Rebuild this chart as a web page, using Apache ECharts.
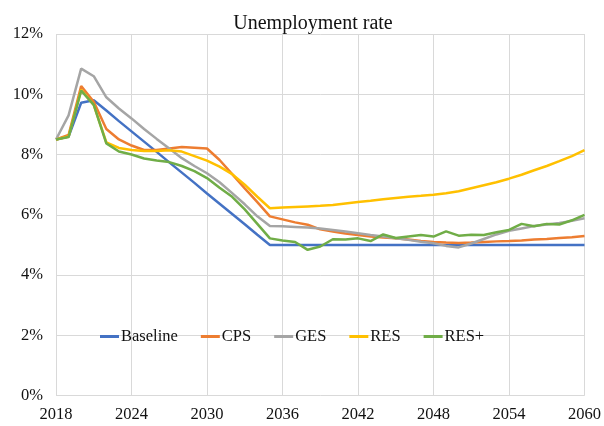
<!DOCTYPE html>
<html><head><meta charset="utf-8">
<script src="https://cdn.jsdelivr.net/npm/echarts@6/dist/echarts.min.js"></script>
<style>html,body{margin:0;padding:0;background:#fff}#c{width:604px;height:426px}</style>
</head><body><div id="c"></div>
<script>
const years = [2018,2019,2020,2021,2022,2023,2024,2025,2026,2027,2028,2029,2030,2031,2032,2033,2034,2035,2036,2037,2038,2039,2040,2041,2042,2043,2044,2045,2046,2047,2048,2049,2050,2051,2052,2053,2054,2055,2056,2057,2058,2059,2060];
const baseline = [8.5,8.6,9.72,9.8,9.46,9.11,8.77,8.43,8.09,7.74,7.4,7.06,6.71,6.37,6.03,5.69,5.34,5.0,5.0,5.0,5.0,5.0,5.0,5.0,5.0,5.0,5.0,5.0,5.0,5.0,5.0,5.0,5.0,5.0,5.0,5.0,5.0,5.0,5.0,5.0,5.0,5.0,5.0];
const cps = [8.5,8.65,10.27,9.75,8.85,8.5,8.3,8.15,8.15,8.2,8.25,8.23,8.2,7.82,7.35,6.88,6.42,5.95,5.85,5.75,5.67,5.52,5.45,5.38,5.33,5.28,5.25,5.22,5.18,5.13,5.1,5.08,5.07,5.08,5.1,5.12,5.13,5.15,5.18,5.2,5.23,5.26,5.3];
const ges = [8.5,9.3,10.85,10.6,9.9,9.53,9.2,8.85,8.52,8.2,7.88,7.62,7.38,7.08,6.72,6.35,5.95,5.63,5.62,5.6,5.58,5.55,5.5,5.45,5.39,5.33,5.28,5.22,5.17,5.11,5.06,4.97,4.92,5.05,5.2,5.35,5.47,5.55,5.63,5.68,5.73,5.8,5.89];
const res = [8.5,8.6,10.15,9.65,8.4,8.22,8.15,8.12,8.12,8.14,8.1,7.95,7.8,7.6,7.35,7.0,6.6,6.22,6.24,6.26,6.28,6.3,6.33,6.38,6.43,6.47,6.52,6.56,6.6,6.63,6.67,6.72,6.78,6.88,6.98,7.08,7.2,7.33,7.48,7.62,7.78,7.95,8.15];
const resPlus = [8.5,8.58,10.12,9.65,8.37,8.1,8.0,7.87,7.8,7.75,7.62,7.45,7.22,6.9,6.6,6.18,5.7,5.22,5.15,5.1,4.84,4.95,5.19,5.18,5.22,5.13,5.35,5.23,5.28,5.33,5.28,5.45,5.31,5.34,5.33,5.42,5.5,5.7,5.62,5.7,5.68,5.82,6.0];
const seriesNames = ['Baseline','CPS','GES','RES','RES+'];
const yTicks = [0,2,4,6,8,10,12];
const xTicks = [2018,2024,2030,2036,2042,2048,2054,2060];

const colors = ['#4472C4','#ED7D31','#A5A5A5','#FFC000','#70AD47'];
const values = [baseline, cps, ges, res, resPlus];
const FONT = 'Liberation Serif';
const chart = echarts.init(document.getElementById('c'), null, {renderer:'canvas'});
chart.setOption({
  animation:false,
  backgroundColor:'#fff',
  title:{text:'Unemployment rate', left:308, top:9, textAlign:'center',
    textStyle:{fontFamily:FONT,fontSize:20,fontWeight:'normal',color:'#111'}},
  grid:{left:56,right:19,top:34,bottom:30.3,containLabel:false},
  legend:{data:seriesNames,left:95,top:323,icon:'rect',itemWidth:19,itemHeight:3,itemGap:23,
    textStyle:{fontFamily:FONT,fontSize:16.5,color:'#111',padding:[0,0,0,-3]}},
  xAxis:{type:'value',min:xTicks[0],max:xTicks[xTicks.length-1],interval:6,
    axisLine:{show:false},axisTick:{show:false},
    splitLine:{show:true,lineStyle:{color:'#D9D9D9',width:1}},
    axisLabel:{fontFamily:FONT,fontSize:16.5,color:'#111',margin:10,
      formatter:v=>xTicks.includes(v)?String(v):''}},
  yAxis:{type:'value',min:yTicks[0],max:yTicks[yTicks.length-1],interval:2,
    axisLine:{show:false},axisTick:{show:false},
    splitLine:{show:true,lineStyle:{color:'#D9D9D9',width:1}},
    axisLabel:{fontFamily:FONT,fontSize:16.5,color:'#111',margin:13,formatter:'{value}%'}},
  series: seriesNames.map((n,i)=>({
    name:n,type:'line',showSymbol:false,symbol:'none',
    data: years.map((y,k)=>[y,values[i][k]]),
    lineStyle:{color:colors[i],width:2.5},itemStyle:{color:colors[i]},z:2+i
  }))
});
</script></body></html>
